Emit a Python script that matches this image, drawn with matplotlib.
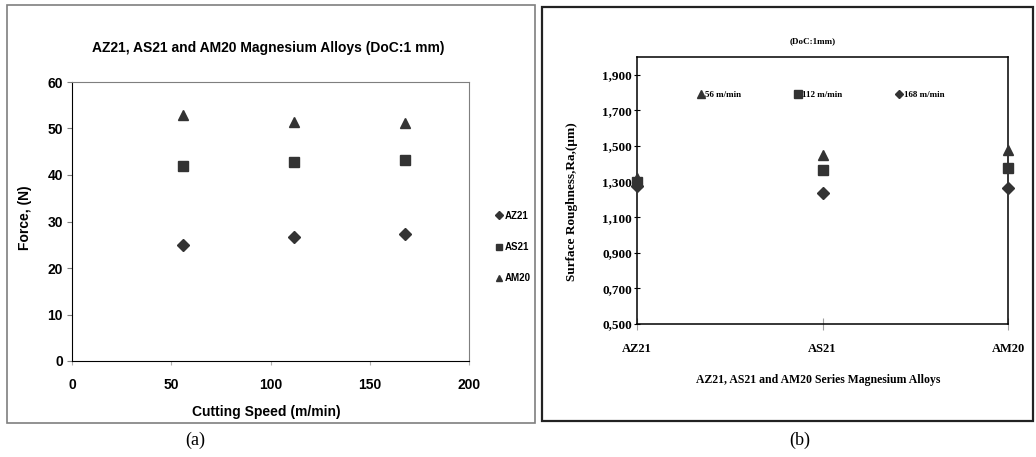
import numpy as np
import matplotlib
matplotlib.use("Agg")
import matplotlib.pyplot as plt
from matplotlib.patches import Rectangle
from matplotlib.ticker import FuncFormatter

# (a) cutting force vs cutting speed
speed = [56, 112, 168]
force_az21 = [25.0, 26.6, 27.4]
force_as21 = [41.9, 42.7, 43.2]
force_am20 = [52.9, 51.3, 51.2]

# (b) surface roughness per alloy
alloys = ["AZ21", "AS21", "AM20"]
ra_56 = [1.323, 1.450, 1.478]
ra_112 = [1.295, 1.366, 1.376]
ra_168 = [1.273, 1.238, 1.263]

DARK = "#333333"
SANS = "Liberation Sans"
SERIF = "Liberation Serif"

fig = plt.figure(figsize=(10.36, 4.57), dpi=100)
W, H = 1036, 457
px = lambda x, y: (x / W, 1 - y / H)

# panel frames
fig.patches.append(Rectangle(px(7, 423), 528 / W, 418 / H, transform=fig.transFigure,
                             fill=False, ec="#7f7f7f", lw=1.2))
fig.patches.append(Rectangle(px(542, 421), 491 / W, 414 / H, transform=fig.transFigure,
                             fill=False, ec="#222222", lw=1.6))

# ---- (a)
ax = fig.add_axes([72 / W, 1 - 361 / H, 397 / W, 279 / H])
ax.plot(speed, force_az21, "D", ms=6.5, color=DARK, label="AZ21")
ax.plot(speed, force_as21, "s", ms=7.5, color=DARK, label="AS21")
ax.plot(speed, force_am20, "^", ms=7.5, color=DARK, label="AM20")
ax.set_xlim(0, 200); ax.set_ylim(0, 60)
ax.set_xticks(range(0, 201, 50)); ax.set_yticks(range(0, 61, 10))
for s in ("top", "right"):
    ax.spines[s].set_color("#7f7f7f")
for s in ("left", "bottom"):
    ax.spines[s].set_color("black")
ax.tick_params(axis="y", direction="out", length=3.6, width=0.8, color="#7f7f7f", pad=3)
ax.tick_params(axis="x", direction="out", length=3, width=0.8, color="#b0b0b0", pad=9)
for lab in ax.get_xticklabels() + ax.get_yticklabels():
    lab.set_fontfamily(SANS); lab.set_fontweight("bold"); lab.set_fontsize(10)
ax.legend(loc="center left", bbox_to_anchor=(487 / W, 1 - 247 / H),
          bbox_transform=fig.transFigure, frameon=False, markerscale=0.6,
          handlelength=0.6, handletextpad=0.3, labelspacing=2.2,
          prop=dict(family=SANS, weight="bold", size=7))
fig.text(*px(268, 48), "AZ21, AS21 and AM20 Magnesium Alloys (DoC:1 mm)",
         ha="center", va="center", family=SANS, weight="bold", size=10)
fig.text(*px(25, 218), "Force, (N)", rotation=90, ha="center", va="center",
         family=SANS, weight="bold", size=10)
fig.text(*px(266, 412), "Cutting Speed (m/min)", ha="center", va="center",
         family=SANS, weight="bold", size=10)
fig.text(*px(195, 440), "(a)", ha="center", va="center", family=SERIF, size=13)

# ---- (b)
bx = fig.add_axes([637 / W, 1 - 324 / H, 371 / W, 267 / H])
xpos = np.arange(1, len(alloys) + 1)
bx.plot(xpos, ra_56, "^", ms=7.5, color=DARK, label="56 m/min", clip_on=False, zorder=3)
bx.plot(xpos, ra_112, "s", ms=7.5, color=DARK, label="112 m/min", clip_on=False, zorder=3)
bx.plot(xpos, ra_168, "D", ms=6, color=DARK, label="168 m/min", clip_on=False, zorder=3)
bx.set_xlim(1, 3); bx.set_ylim(0.5, 2.0)
bx.set_xticks(xpos, alloys)
bx.set_yticks(np.arange(0.5, 1.95, 0.2))
bx.yaxis.set_major_formatter(FuncFormatter(lambda v, p: f"{v:.3f}".replace(".", ",")))
for s in bx.spines.values():
    s.set_linewidth(1.1)
bx.tick_params(axis="y", direction="inout", length=5, width=0.8, pad=1)
bx.tick_params(axis="x", direction="inout", length=8, width=0.8, color="#a0a0a0", pad=10)
for lab in bx.get_yticklabels():
    lab.set_fontfamily(SERIF); lab.set_fontweight("bold"); lab.set_fontsize(9.5)
for lab in bx.get_xticklabels():
    lab.set_fontfamily(SERIF); lab.set_fontweight("bold"); lab.set_fontsize(9)
bx.legend(loc="center", bbox_to_anchor=(0.497, 0.858), ncol=3, frameon=False,
          markerscale=0.75, handlelength=0.5, handletextpad=0.25, columnspacing=6.0,
          prop=dict(family=SERIF, weight="bold", size=6.5))
fig.text(*px(813, 41), "(DoC:1mm)", ha="center", va="center",
         family=SERIF, weight="bold", size=6.5)
fig.text(*px(572, 202), "Surface Roughness,Ra,(\u00b5m)", rotation=90, ha="center",
         va="center", family=SERIF, weight="bold", size=9.5)
fig.text(*px(818, 380), "AZ21, AS21 and AM20 Series Magnesium Alloys", ha="center",
         va="center", family=SERIF, weight="bold", size=8.5)
fig.text(*px(800, 440), "(b)", ha="center", va="center", family=SERIF, size=13)

fig.savefig("out.png", dpi=100)
